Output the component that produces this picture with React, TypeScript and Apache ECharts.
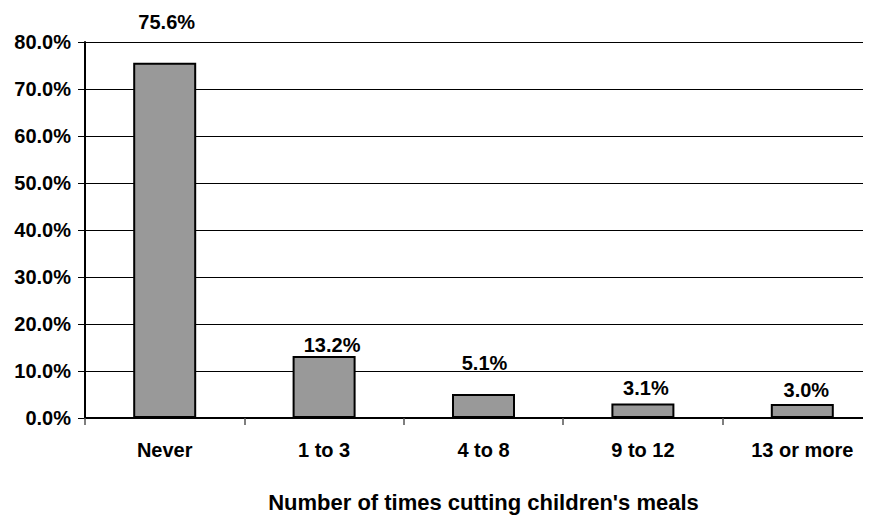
import React, { useEffect, useRef } from "react";
import * as echarts from "echarts";

const categories = ["Never", "1 to 3", "4 to 8", "9 to 12", "13 or more"];
const values = [75.6, 13.2, 5.1, 3.1, 3.0];
const labelDistances = [31, 1, 21, 5, 4];
const labelOffsetsX = [2, 8, 1, 3, 4];
const yTicks = [0, 10, 20, 30, 40, 50, 60, 70, 80];
const xTitle = "Number of times cutting children's meals";

export default function App() {
  const ref = useRef<HTMLDivElement>(null);
  useEffect(() => {
    if (!ref.current) return;
    const chart = echarts.init(ref.current, null, { renderer: "svg" });
    const font = "'Liberation Sans', Arial, sans-serif";
    chart.setOption({
      animation: false,
      backgroundColor: "#ffffff",
      grid: {
        left: 85,
        top: 42,
        width: 797,
        height: 376,
        containLabel: false,
        outerBoundsMode: "none",
      },
      xAxis: {
        type: "category",
        data: categories,
        name: xTitle,
        nameLocation: "middle",
        nameGap: 73,
        nameTextStyle: { fontFamily: font, fontWeight: "bold", fontSize: 22, color: "#000" },
        axisLine: { lineStyle: { color: "#000", width: 2 } },
        axisTick: { show: true, length: 7, lineStyle: { color: "#555", width: 1.5 } },
        axisLabel: { margin: 22, fontFamily: font, fontWeight: "bold", fontSize: 20, color: "#000" },
        splitLine: { show: false },
      },
      yAxis: {
        type: "value",
        min: yTicks[0],
        max: yTicks[yTicks.length - 1],
        interval: 10,
        axisLine: { show: true, lineStyle: { color: "#000", width: 2 } },
        axisTick: { show: true, length: 7, lineStyle: { color: "#000", width: 1 } },
        axisLabel: {
          margin: 14,
          fontFamily: font,
          fontWeight: "bold",
          fontSize: 20,
          color: "#000",
          formatter: (v: number) => v.toFixed(1) + "%",
        },
        splitLine: { show: true, lineStyle: { color: "#000", width: 1 } },
      },
      series: [
        {
          type: "bar",
          barWidth: 63,
          data: values.map((v, i) => ({
            value: v,
            label: { distance: labelDistances[i], offset: [labelOffsetsX[i], 0] },
          })),
          itemStyle: { color: "#999999", borderColor: "#000", borderWidth: 2 },
          label: {
            show: true,
            position: "top",
            fontFamily: font,
            fontWeight: "bold",
            fontSize: 20,
            color: "#000",
            formatter: (p: any) => Number(p.value).toFixed(1) + "%",
          },
        },
      ],
    });
    return () => chart.dispose();
  }, []);
  return <div ref={ref} style={{ width: 871, height: 515, marginLeft: -8, marginTop: -8 }} />;
}
